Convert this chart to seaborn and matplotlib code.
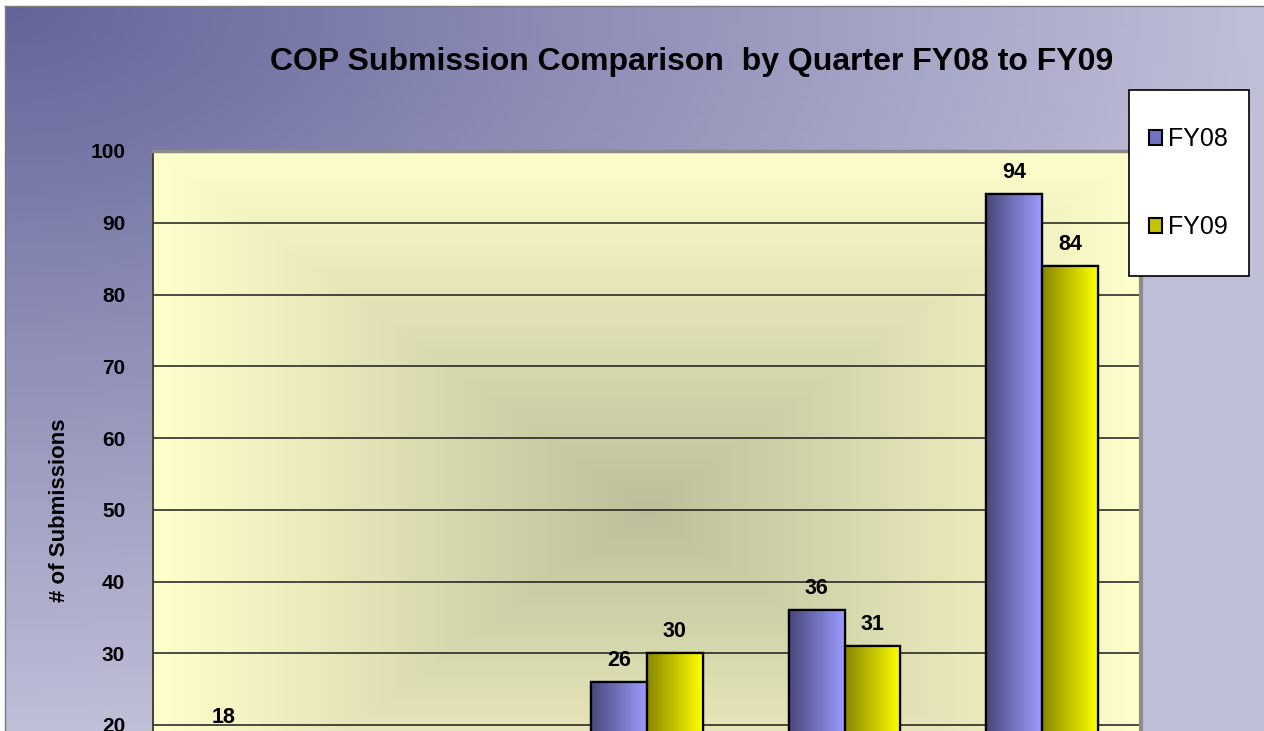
"""
COP submission comparison by quarter, FY08 vs FY09 (grouped bars).
Only the top part of the chart is in the frame, so the axes run past the
bottom edge of the figure.
"""
import numpy as np
import pandas as pd
import matplotlib
matplotlib.use("Agg")
import matplotlib.pyplot as plt
import seaborn as sns
from matplotlib.colors import to_rgb
from matplotlib.patches import Rectangle

# --------------------------------------------------------------------------- #
# Data
# --------------------------------------------------------------------------- #
QUARTERS = ["1st Qtr", "2nd Qtr", "3rd Qtr", "4th Qtr", "Total"]
FY08 = [18, 14, 26, 36, 94]
FY09 = [11, 12, 30, 31, 84]
SERIES = ["FY08", "FY09"]
YTICKS = [20, 30, 40, 50, 60, 70, 80, 90, 100]

TITLE = "COP Submission Comparison  by Quarter FY08 to FY09"
YLABEL = "# of Submissions"

# bar gradients: dark left edge -> light right edge
GRAD = {"FY08": ("#48487a", "#9c9cff"), "FY09": ("#888800", "#ffff00")}
LEGEND_COLORS = {"FY08": "#7272c4", "FY09": "#c4c400"}
BG_DARK, BG_LIGHT = "#64649a", "#bfbfd8"
PLOT_EDGE, PLOT_CENTER = "#ffffcc", "#bebe9a"

df = pd.DataFrame({
    "quarter": QUARTERS * 2,
    "year": [SERIES[0]] * len(FY08) + [SERIES[1]] * len(FY09),
    "count": FY08 + FY09,
})

W, H = 1264, 731
VISIBLE_MIN = 16   # labels of shorter bars fall below the cropped frame


def lerp(c0, c1, t):
    c0, c1 = np.array(to_rgb(c0)), np.array(to_rgb(c1))
    return c0 + (c1 - c0) * t[..., None]


sns.set_theme(style="white")
plt.rcParams["font.family"] = ["Liberation Sans", "DejaVu Sans"]
plt.rcParams.update({"text.color": "black", "axes.labelcolor": "black",
                     "xtick.color": "black", "ytick.color": "black"})

fig = plt.figure(figsize=(W / 100, H / 100), dpi=100)
fig.patch.set_facecolor("white")

# --- chart-area background (gradient from top-left corner) ----------------- #
bg = fig.add_axes([5 / W, 0, 1 - 5 / W, 1 - 6 / H])
gx, gy = np.meshgrid(np.linspace(0, 1, 300), np.linspace(0, 1, 200))
t_bg = np.clip(np.sqrt(gx ** 2 + gy ** 2), 0, 1)
bg.imshow(lerp(BG_DARK, BG_LIGHT, t_bg), extent=[0, 1, 1, 0], aspect="auto")
bg.set_xlim(0, 1)
bg.set_ylim(1, 0)
bg.set_xticks([])
bg.set_yticks([])
for side in ["bottom", "right"]:
    bg.spines[side].set_visible(False)
for side in ["top", "left"]:
    bg.spines[side].set_color("#7a7a7a")
    bg.spines[side].set_linewidth(1)

# --- plot area ------------------------------------------------------------- #
left_px, right_px, top_px, zero_px = 153, 1141, 151, 868.5
ax = fig.add_axes([left_px / W, 1 - zero_px / H,
                   (right_px - left_px) / W, (zero_px - top_px) / H])

sns.barplot(data=df, x="quarter", y="count", hue="year", hue_order=SERIES,
            palette=LEGEND_COLORS, width=0.565, gap=0, edgecolor="black",
            linewidth=1.6, saturation=1, legend=False, ax=ax, zorder=2)

# rectangular "from center" gradient behind the bars
ux, uy = np.meshgrid(np.linspace(-1, 1, 400), np.linspace(-1, 1, 300))
t_pa = 1 - np.maximum(np.abs(ux), np.abs(uy))
ax.imshow(lerp(PLOT_EDGE, PLOT_CENTER, t_pa), extent=[-0.5, 4.5, 0, 100],
          aspect="auto", zorder=-1)

# gradient fill on every bar, then redraw its black outline on top
for name, cont in zip(SERIES, ax.containers):
    row = lerp(GRAD[name][0], GRAD[name][1], np.linspace(0, 1, 64))[None, :, :]
    for bar in cont:
        x0, y0 = bar.get_x(), bar.get_y()
        bw, bh = bar.get_width(), bar.get_height()
        im = ax.imshow(row, extent=[x0, x0 + bw, y0, y0 + bh], aspect="auto",
                       zorder=2.1)
        im.set_clip_path(bar)
        ax.add_patch(Rectangle((x0, y0), bw, bh, fill=False, edgecolor="black",
                               linewidth=1.6, zorder=2.2))
    labels = [f"{b.get_height():.0f}" if b.get_height() >= VISIBLE_MIN else ""
              for b in cont]
    ax.bar_label(cont, labels=labels, padding=8, fontsize=15.5,
                 fontweight="bold", color="black", zorder=3)

ax.set_xlim(-0.5, 4.5)
ax.set_ylim(0, 100)
ax.set_yticks(YTICKS)
ax.set_xticks(range(len(QUARTERS)))
ax.set_xticklabels([])
ax.set_axisbelow(True)
ax.yaxis.grid(True, color="#1a1a1a", linewidth=1.1)
ax.xaxis.grid(False)
ax.tick_params(axis="y", which="major", direction="out", length=5, width=1,
               color="#404040", pad=15, labelsize=15)
ax.tick_params(axis="x", length=0)
for lab in ax.get_yticklabels():
    lab.set_fontweight("bold")
ax.set_xlabel("")
ax.set_ylabel(YLABEL, fontsize=16, fontweight="bold")
ax.yaxis.set_label_coords(-0.084, 0.5)

ax.spines["left"].set_color("#404040")
ax.spines["left"].set_linewidth(1.4)
ax.spines["top"].set_color("#8a8a8a")
ax.spines["top"].set_linewidth(2.5)
ax.spines["right"].set_color("#8c8c8c")
ax.spines["right"].set_linewidth(3)
ax.spines["bottom"].set_visible(False)

# --- title ----------------------------------------------------------------- #
fig.text(692 / W, 1 - 62 / H, TITLE, ha="center", va="center",
         fontsize=23, fontweight="bold", color="black")

# --- legend ---------------------------------------------------------------- #
lx0, lx1, ly0, ly1 = 1129, 1249, 90, 276
fig.patches.append(Rectangle((lx0 / W, 1 - ly1 / H), (lx1 - lx0) / W,
                             (ly1 - ly0) / H, transform=fig.transFigure,
                             facecolor="white", edgecolor="black",
                             linewidth=1.2, zorder=5))
handles = [Rectangle((0, 0), 1, 1, facecolor=LEGEND_COLORS[s],
                     edgecolor="black", linewidth=1.5) for s in SERIES]
leg = fig.legend(handles, SERIES, loc="center left",
                 bbox_to_anchor=(1136 / W, 1 - 183 / H), frameon=False,
                 fontsize=18, handlelength=0.55, handleheight=0.55,
                 handletextpad=0.25, labelspacing=2.55, borderpad=0)
leg.set_zorder(6)

fig.savefig("out.png", dpi=100)
